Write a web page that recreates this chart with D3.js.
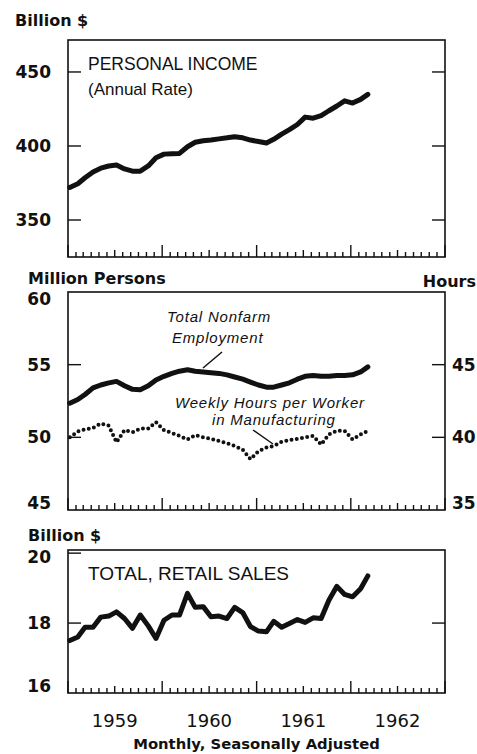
<!DOCTYPE html>
<html lang="en">
<head>
<meta charset="UTF-8">
<title>Income, Employment and Retail Sales 1959-1962</title>
<script src="https://d3js.org/d3.v7.min.js"></script>
<style>
  body { margin: 0; background: #fff; }
  svg { display: block; }
  .unit { font-family: "DejaVu Sans", sans-serif; font-weight: bold; font-size: 16px; fill: #111; }
  .ylab { font-family: "DejaVu Sans", sans-serif; font-weight: bold; font-size: 17px; fill: #111; }
  .year { font-family: "DejaVu Sans", sans-serif; font-size: 18px; fill: #111; }
  .foot { font-family: "DejaVu Sans", sans-serif; font-weight: bold; font-size: 14.8px; fill: #111; }
  .title { font-family: "Liberation Sans", Arial, sans-serif; fill: #111; }
  .note { font-family: "Liberation Sans", Arial, sans-serif; font-style: italic; font-size: 15px; letter-spacing: 0.8px; fill: #111; }
  .frame { fill: none; stroke: #111; stroke-width: 1.6; }
  .tick { stroke: #111; stroke-width: 1.4; }
  .series { fill: none; stroke: #111; stroke-width: 5; stroke-linejoin: round; stroke-linecap: round; }
  .dotted { fill: none; stroke: #111; stroke-width: 4; stroke-linecap: round; stroke-dasharray: 0 5.3; }
  .pointer { stroke: #111; stroke-width: 1.5; }
</style>
</head>
<body>
<svg width="477" height="754"></svg>
<script>
// monthly, Jan 1959 - Mar 1962
const personalIncome = [372, 374.5, 378.5, 382.5, 385, 386.5, 387.2, 384.5, 383, 383, 386.5, 392,
  394.5, 394.8, 395, 399.5, 402.5, 403.5, 404, 404.8, 405.5, 406.3, 405.5, 404,
  403, 402, 404.5, 408, 411, 414.5, 419.5, 418.8, 420.5, 423.8, 427, 430.5,
  429, 431.5, 434.9];
const employment = [52.35, 52.6, 52.95, 53.4, 53.6, 53.75, 53.85, 53.55, 53.3, 53.28, 53.55, 53.95,
  54.2, 54.4, 54.55, 54.65, 54.55, 54.5, 54.45, 54.4, 54.3, 54.15, 54.0, 53.8,
  53.6, 53.45, 53.45, 53.6, 53.75, 54.0, 54.2, 54.25, 54.2, 54.2, 54.25, 54.25,
  54.3, 54.5, 54.85];
const weeklyHours = [40.0, 40.4, 40.55, 40.65, 40.95, 40.8, 39.65, 40.5, 40.35, 40.6, 40.6, 41.05,
  40.5, 40.3, 40.1, 39.85, 40.15, 40.0, 39.9, 39.75, 39.6, 39.4, 39.15, 38.5,
  39.05, 39.3, 39.4, 39.7, 39.8, 39.9, 40.0, 40.1, 39.5, 40.2, 40.45, 40.45,
  39.85, 40.2, 40.45];
const retailSales = [17.5, 17.6, 17.88, 17.88, 18.17, 18.2, 18.32, 18.13, 17.85, 18.23, 17.92, 17.56,
  18.08, 18.23, 18.23, 18.85, 18.45, 18.47, 18.18, 18.2, 18.13, 18.45, 18.3, 17.9,
  17.77, 17.75, 18.05, 17.88, 17.99, 18.1, 18.02, 18.15, 18.13, 18.65, 19.05, 18.82,
  18.75, 18.98, 19.35];
const years = [1959, 1960, 1961, 1962];
const incomeTicks = [450, 400, 350];
const employTicks = [60, 55, 50, 45];
const hoursTicks = [45, 40, 35];
const retailTicks = [20, 18, 16];

const svg = d3.select("svg");
const left = 68, right = 445;

const x = d3.scaleTime()
  .domain([new Date(1959, 0, 1), new Date(1963, 0, 1)])
  .range([left, right]);
const dates = personalIncome.map((d, i) => new Date(1959, i, 8));
const months = d3.timeMonth.range(new Date(1959, 0, 1), new Date(1963, 0, 2));

function frame(top, bottom) {
  svg.append("rect").attr("class", "frame")
    .attr("x", left).attr("y", top)
    .attr("width", right - left).attr("height", bottom - top);
  // month ticks along the bottom edge
  svg.append("g").selectAll("line")
    .data(months)
    .join("line")
    .attr("class", "tick")
    .attr("x1", d => x(d)).attr("x2", d => x(d))
    .attr("y1", bottom)
    .attr("y2", d => bottom - (d.getMonth() === 0 ? 12 : d.getMonth() === 6 ? 7 : 5));
}

function yAxis(y, ticks, side, top, bottom) {
  const inner = ticks.filter(t => y(t) > top + 2 && y(t) < bottom - 2);
  const x0 = side === "left" ? left : right;
  const dir = side === "left" ? 1 : -1;
  svg.append("g").selectAll("line")
    .data(inner)
    .join("line")
    .attr("class", "tick")
    .attr("x1", x0).attr("x2", x0 + dir * 13)
    .attr("y1", d => y(d)).attr("y2", d => y(d));
  svg.append("g").selectAll("text")
    .data(ticks)
    .join("text")
    .attr("class", "ylab")
    .attr("x", side === "left" ? 51 : 452)
    .attr("y", d => Math.max(top + 13, Math.min(bottom - 1, y(d) + 6)))
    .attr("text-anchor", side === "left" ? "end" : "start")
    .text(d => d);
}

function series(y, values, cls) {
  const line = d3.line()
    .x((d, i) => x(dates[i]))
    .y(d => y(d));
  svg.append("path").attr("class", cls).attr("d", line(values));
}

// Panel 1: personal income
const t1 = 40, b1 = 257;
const y1 = d3.scaleLinear().domain([325, 471.6]).range([b1, t1]);
frame(t1, b1);
yAxis(y1, incomeTicks, "left", t1, b1);
svg.append("g").selectAll("line")
  .data(incomeTicks).join("line").attr("class", "tick")
  .attr("x1", right).attr("x2", right - 13)
  .attr("y1", d => y1(d)).attr("y2", d => y1(d));
series(y1, personalIncome, "series");
svg.append("text").attr("class", "unit").attr("x", 15).attr("y", 26).text("Billion $");
svg.append("text").attr("class", "title").attr("x", 88).attr("y", 70)
  .style("font-size", "17.5px").text("PERSONAL INCOME");
svg.append("text").attr("class", "title").attr("x", 88).attr("y", 95)
  .style("font-size", "17px").text("(Annual Rate)");

// Panel 2: employment and hours
const t2 = 292, b2 = 510;
const y2 = d3.scaleLinear().domain([45, 60]).range([b2, t2]);
const y2h = d3.scaleLinear().domain([35, 50]).range([b2, t2]);
frame(t2, b2);
yAxis(y2, employTicks, "left", t2, b2);
yAxis(y2h, hoursTicks, "right", t2, b2);
series(y2, employment, "series");
series(y2h, weeklyHours, "dotted");
svg.append("text").attr("class", "unit").attr("x", 28).attr("y", 284).text("Million Persons");
svg.append("text").attr("class", "unit").attr("x", 476).attr("y", 287)
  .attr("text-anchor", "end").text("Hours");
svg.append("text").attr("class", "note").attr("x", 167).attr("y", 322).text("Total Nonfarm");
svg.append("text").attr("class", "note").attr("x", 172).attr("y", 343).text("Employment");
svg.append("line").attr("class", "pointer")
  .attr("x1", 222).attr("y1", 352).attr("x2", 203).attr("y2", 368);
svg.append("text").attr("class", "note").attr("x", 175).attr("y", 408).text("Weekly Hours per Worker");
svg.append("text").attr("class", "note").attr("x", 212).attr("y", 425).text("in Manufacturing");
svg.append("line").attr("class", "pointer")
  .attr("x1", 253).attr("y1", 430).attr("x2", 273).attr("y2", 444);

// Panel 3: retail sales
const t3 = 550, b3 = 693;
const y3 = d3.scaleLinear().domain([16, 20.09]).range([b3, t3]);
frame(t3, b3);
yAxis(y3, retailTicks, "left", t3, b3);
svg.append("g").selectAll("line")
  .data(retailTicks.filter(t => t > 16 && t < 20)).join("line").attr("class", "tick")
  .attr("x1", right).attr("x2", right - 13)
  .attr("y1", d => y3(d)).attr("y2", d => y3(d));
series(y3, retailSales, "series");
svg.append("text").attr("class", "unit").attr("x", 28).attr("y", 541).text("Billion $");
svg.append("text").attr("class", "title").attr("x", 88).attr("y", 580)
  .style("font-size", "19px").text("TOTAL, RETAIL SALES");

// year labels and footer
svg.append("g").selectAll("text")
  .data(years)
  .join("text")
  .attr("class", "year")
  .attr("x", d => x(new Date(d, 6, 1)))
  .attr("y", 727)
  .attr("text-anchor", "middle")
  .text(d => d);
svg.append("text").attr("class", "foot")
  .attr("x", (left + right) / 2).attr("y", 749)
  .attr("text-anchor", "middle")
  .text("Monthly, Seasonally Adjusted");
</script>
</body>
</html>
